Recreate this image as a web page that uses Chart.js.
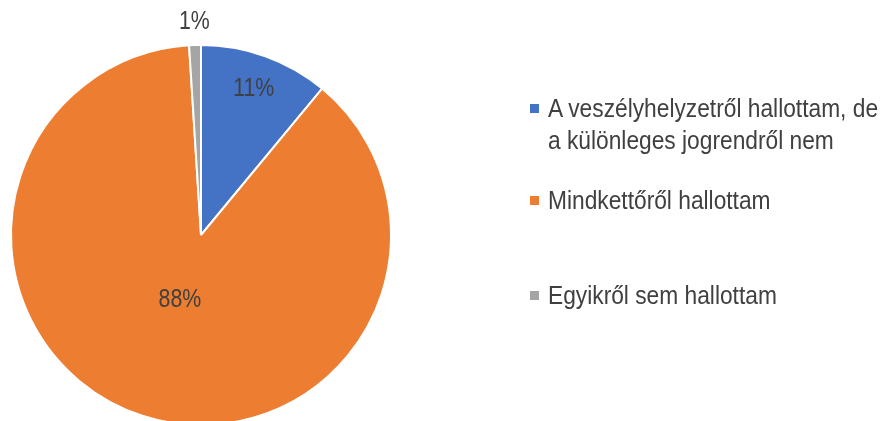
<!DOCTYPE html>
<html>
<head>
	<script src="https://cdn.jsdelivr.net/npm/chart.js@4.4.0/dist/chart.umd.min.js"></script>
	<title>Pie</title>
	<style>
		body { margin: 0; background: #fff; overflow: hidden; }
		#wrap { position: relative; width: 885px; height: 421px; overflow: hidden; }
		#chart { position: absolute; left: 0; top: 0; }
		#legend { position: absolute; left: 528px; top: 0; font-family: 'Liberation Sans', Arial, sans-serif; font-size: 25px; color: #404040; }
		.item { position: absolute; left: 0; white-space: nowrap; line-height: 32px; }
		.box { position: absolute; left: 2px; top: 12px; width: 9px; height: 9px; }
		.txt { position: absolute; left: 20px; top: 0; transform: scaleX(0.91); transform-origin: 0 0; }
	</style>
</head>
<body>
<div id="wrap">
	<canvas id="chart" width="885" height="480"></canvas>
	<div id="legend"></div>
</div>
<script type="text/javascript">
	const categories = [
		['A veszélyhelyzetről hallottam, de', 'a különleges jogrendről nem'],
		['Mindkettőről hallottam'],
		['Egyikről sem hallottam']
	];
	const values = [11, 88, 1];
	const pctLabels = ['11%', '88%', '1%'];
	const colors = ['#4472C4', '#ED7D31', '#A5A5A5'];

	// legend rows (top of each row block)
	const legendTops = [92, 184, 279];
	const legend = document.getElementById('legend');
	categories.forEach((lines, i) => {
		const d = document.createElement('div');
		d.className = 'item';
		d.style.top = legendTops[i] + 'px';
		d.innerHTML = '<div class="box" style="background:' + colors[i] + '"></div>' +
			'<div class="txt">' + lines.join('<br>') + '</div>';
		legend.appendChild(d);
	});

	const labelPos = [0.82, 0.36, 1.12];
	const pctPlugin = {
		id: 'pct',
		afterDatasetsDraw(chart) {
			const ctx = chart.ctx;
			const arcs = chart.getDatasetMeta(0).data;
			arcs.forEach((a, i) => {
				const mid = (a.startAngle + a.endAngle) / 2;
				const r = a.outerRadius * labelPos[i];
				ctx.save();
				ctx.translate(a.x + Math.cos(mid) * r, a.y + Math.sin(mid) * r);
				ctx.scale(0.82, 1);
				ctx.font = '26px "Liberation Sans", Arial, sans-serif';
				ctx.fillStyle = '#404040';
				ctx.textAlign = 'center';
				ctx.textBaseline = 'middle';
				ctx.fillText(pctLabels[i], 0, 0);
				ctx.restore();
			});
		}
	};

	new Chart(document.getElementById('chart').getContext('2d'), {
		type: 'pie',
		data: {
			labels: categories.map(l => l.join(' ')),
			datasets: [{
				data: values,
				backgroundColor: colors,
				borderColor: '#ffffff',
				borderWidth: 2
			}]
		},
		options: {
			responsive: false,
			animation: false,
			layout: { padding: { left: 10, top: 44, right: 493, bottom: 54 } },
			plugins: { legend: { display: false }, tooltip: { enabled: false } }
		},
		plugins: [pctPlugin]
	});
</script>
</body>
</html>
